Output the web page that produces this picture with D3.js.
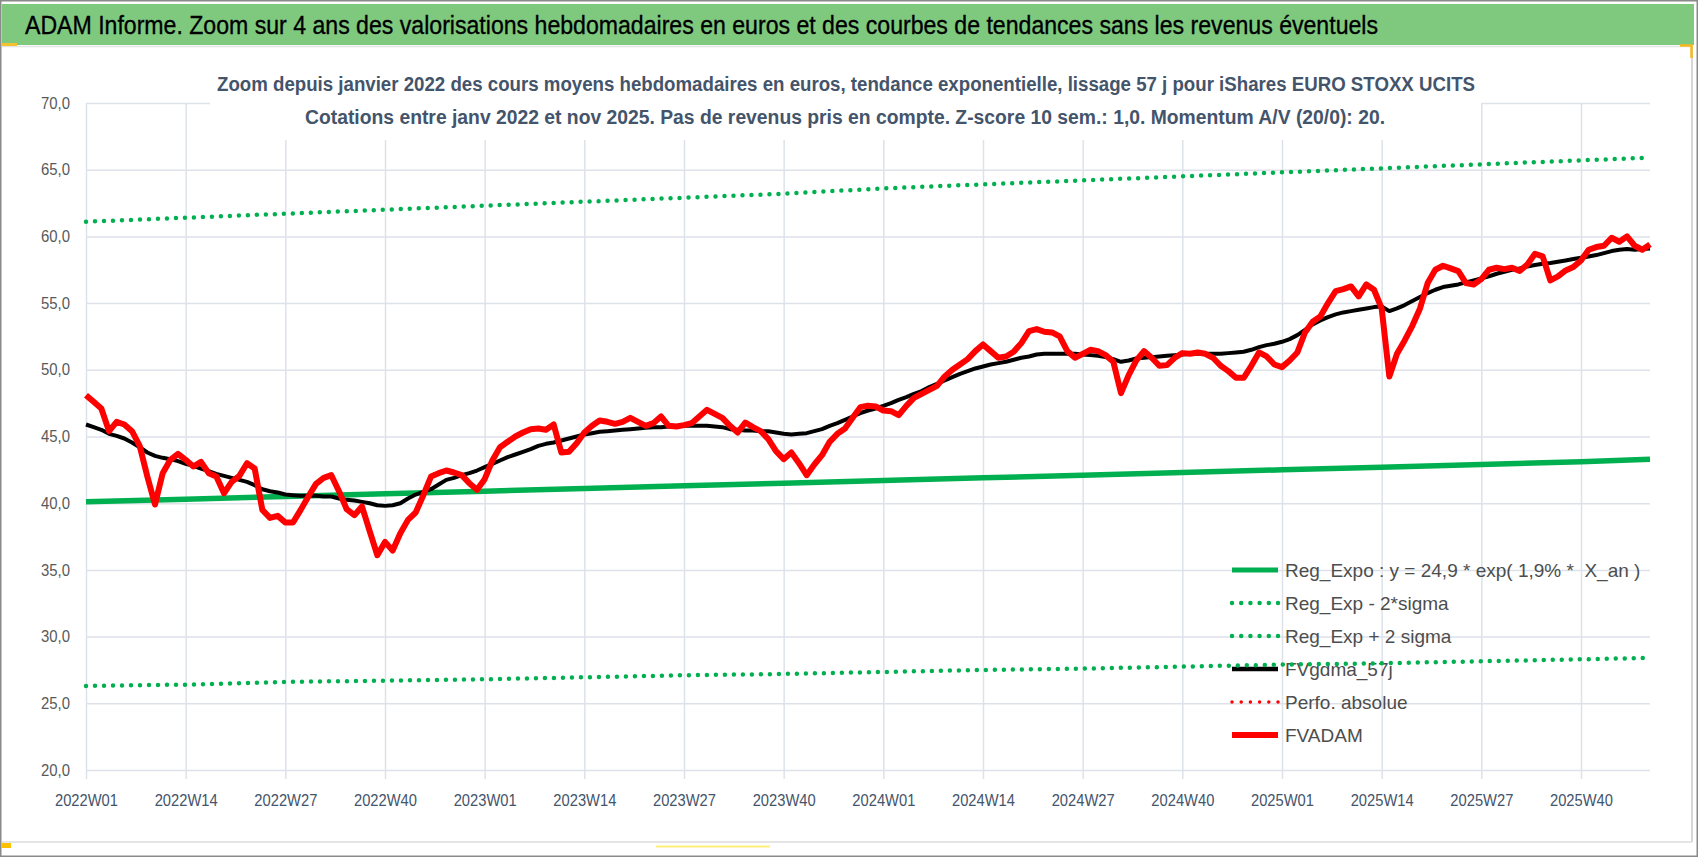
<!DOCTYPE html>
<html>
<head>
<meta charset="utf-8">
<script src="https://cdn.jsdelivr.net/npm/d3@7"></script>
<style>
    body { margin: 0; background: #fff; }
    svg { display: block; font-family: "Liberation Sans", Arial, sans-serif; }
</style>
</head>
<body>
<svg id="chart" width="1698" height="857"></svg>
<script>
// weekly categories, 2022W01 .. 2025W49
const years = [2022, 2023, 2024, 2025]
const weeksPerYear = [52, 52, 52, 49]
const categories = []
years.forEach((yr, k) => {
    for (let w = 1; w <= weeksPerYear[k]; w++) categories.push(yr + 'W' + String(w).padStart(2, '0'))
})

const tickLabels = ['2022W01', '2022W14', '2022W27', '2022W40', '2023W01', '2023W14', '2023W27', '2023W40',
    '2024W01', '2024W14', '2024W27', '2024W40', '2025W01', '2025W14', '2025W27', '2025W40']
const yTicks = [20, 25, 30, 35, 40, 45, 50, 55, 60, 65, 70]

// FVADAM (cours moyens hebdo)
const fvadam = [
    48.1, 47.6, 47.1, 45.4, 46.1, 45.9, 45.4, 44.3, 42.0, 39.9,
    42.25, 43.25, 43.7, 43.25, 42.75, 43.1, 42.25, 42.0, 40.75, 41.6,
    42.05, 43.0, 42.6, 39.5, 38.9, 39.05, 38.55, 38.55, 39.5, 40.5,
    41.45, 41.9, 42.1, 40.9, 39.55, 39.1, 39.75, 37.9, 36.1, 37.1,
    36.45, 37.75, 38.75, 39.3, 40.6, 42.0, 42.25, 42.45, 42.3, 42.1,
    41.5, 41.0, 41.8, 43.2, 44.2, 44.6, 45.0, 45.3, 45.55, 45.6,
    45.5, 45.9, 43.8, 43.85, 44.5, 45.3, 45.8, 46.2, 46.1, 45.95,
    46.1, 46.4, 46.1, 45.8, 46.0, 46.5, 45.8, 45.75, 45.85, 46.0,
    46.5, 47.0, 46.7, 46.4, 45.8, 45.3, 46.05, 45.7, 45.4, 44.8,
    43.9, 43.3, 43.8, 43.0, 42.1, 42.9, 43.6, 44.6, 45.2, 45.6,
    46.4, 47.2, 47.3, 47.25, 46.95, 46.9, 46.6, 47.3, 47.9, 48.2,
    48.5, 48.8, 49.5, 50.0, 50.4, 50.8, 51.4, 51.9, 51.4, 50.9,
    51.0, 51.35, 52.0, 52.9, 53.05, 52.85, 52.8, 52.5, 51.4, 50.9,
    51.2, 51.5, 51.4, 51.1, 50.6, 48.25, 49.6, 50.7, 51.4, 50.9,
    50.3, 50.35, 50.9, 51.25, 51.2, 51.3, 51.2, 50.9, 50.3, 49.9,
    49.4, 49.4, 50.3, 51.3, 51.0, 50.4, 50.2, 50.7, 51.3, 52.8,
    53.6, 54.0, 55.0, 55.9, 56.05, 56.25, 55.5, 56.4, 56.0, 54.6,
    49.5, 51.2, 52.2, 53.3, 54.6, 56.5, 57.5, 57.8, 57.6, 57.4,
    56.5, 56.4, 56.8, 57.5, 57.65, 57.55, 57.65, 57.4, 57.9, 58.7,
    58.5, 56.7, 57.0, 57.45, 57.7, 58.2, 59.0, 59.2, 59.3, 59.9,
    59.6, 60.0, 59.3, 59.0, 59.4
]

// FVgdma_57j (moyenne lissée)
const fvgdma = [
    45.9, 45.7, 45.5, 45.2, 45.05, 44.85, 44.55, 44.2, 43.8, 43.55,
    43.4, 43.3, 43.15, 42.95, 42.8, 42.6, 42.4, 42.2, 42.05, 41.9,
    41.75, 41.6, 41.35, 41.05, 40.9, 40.8, 40.65, 40.6, 40.55, 40.55,
    40.55, 40.5, 40.5, 40.35, 40.25, 40.2, 40.1, 40.0, 39.85, 39.8,
    39.85, 40.0, 40.35, 40.65, 40.85, 41.05, 41.4, 41.75, 41.9, 42.1,
    42.25, 42.45, 42.7, 42.95, 43.2, 43.45, 43.65, 43.85, 44.05, 44.3,
    44.45, 44.55, 44.7, 44.85, 45.0, 45.15, 45.25, 45.35, 45.4, 45.45,
    45.5, 45.55, 45.6, 45.65, 45.7, 45.7, 45.75, 45.75, 45.8, 45.8,
    45.8, 45.8, 45.75, 45.7, 45.55, 45.5, 45.45, 45.45, 45.4, 45.4,
    45.3, 45.2, 45.15, 45.2, 45.25, 45.4, 45.55, 45.8, 46.0, 46.25,
    46.5, 46.75, 46.95, 47.1, 47.3, 47.5, 47.75, 47.95, 48.2, 48.4,
    48.7, 48.95, 49.2, 49.45, 49.7, 49.9, 50.1, 50.25, 50.4, 50.5,
    50.6, 50.75, 50.9, 51.0, 51.15, 51.2, 51.2, 51.2, 51.2, 51.2,
    51.15, 51.1, 51.05, 50.95, 50.8, 50.6, 50.7, 50.85, 50.9, 50.95,
    51.0, 51.05, 51.1, 51.15, 51.2, 51.2, 51.2, 51.2, 51.2, 51.25,
    51.3, 51.35, 51.5, 51.7, 51.85, 51.95, 52.1, 52.3, 52.6, 53.0,
    53.4, 53.7, 53.95, 54.15, 54.3, 54.4, 54.5, 54.6, 54.7, 54.75,
    54.4, 54.6, 54.85, 55.15, 55.45, 55.75, 56.0, 56.2, 56.3, 56.4,
    56.55, 56.7, 56.85, 57.0, 57.2, 57.35, 57.5, 57.6, 57.75, 57.85,
    57.95, 58.0, 58.1, 58.2, 58.3, 58.4, 58.5, 58.6, 58.75, 58.9,
    59.0, 59.05, 59.0, 59.05, 59.1
]

// regression curves, read at each labelled week and at the last week
const trendWeeks = ['2022W01', '2022W14', '2022W27', '2022W40', '2023W01', '2023W14', '2023W27', '2023W40',
    '2024W01', '2024W14', '2024W27', '2024W40', '2025W01', '2025W14', '2025W27', '2025W40', '2025W49']
const regExpo = [40.1, 40.3, 40.5, 40.7, 40.9, 41.1, 41.3, 41.5, 41.7, 41.9, 42.1, 42.3, 42.5, 42.7, 42.9, 43.1, 43.3]
const regMinus2Sigma = [26.3, 26.4, 26.6, 26.7, 26.8, 26.95, 27.1, 27.2, 27.35, 27.5, 27.6, 27.75, 27.9, 28.0, 28.15, 28.3, 28.4]
const regPlus2Sigma = [61.1, 61.4, 61.7, 62.0, 62.3, 62.6, 62.9, 63.2, 63.6, 63.9, 64.2, 64.5, 64.8, 65.1, 65.4, 65.7, 65.9]
const perfoAbsolue = []

const legendLabels = ['Reg_Expo : y = 24,9 * exp( 1,9% *  X_an )', 'Reg_Exp - 2*sigma', 'Reg_Exp + 2 sigma',
    'FVgdma_57j', 'Perfo. absolue', 'FVADAM']

const title = 'ADAM Informe. Zoom sur 4 ans des valorisations hebdomadaires en euros et des courbes de tendances sans les revenus éventuels'
const subtitle = [
    'Zoom depuis janvier 2022 des cours moyens hebdomadaires en euros, tendance exponentielle, lissage 57 j pour iShares EURO STOXX UCITS',
    'Cotations entre janv 2022 et nov 2025. Pas de revenus pris en compte. Z-score 10 sem.: 1,0. Momentum A/V (20/0): 20.'
]

// ---------------------------------------------------------------
const svg = d3.select('#chart')
const plot = { left: 86, right: 1650, top: 103, bottom: 770 }
const GREEN = '#00b050', RED = '#ff0000', GRID = '#dde2ea'

const x = d3.scalePoint().domain(categories).range([plot.left, plot.right])
const y = d3.scaleLinear().domain([20, 70]).range([plot.bottom, plot.top])
const fr = d3.formatLocale({ decimal: ',', thousands: ' ', grouping: [3], currency: ['', ' €'] })
const fmt = fr.format('.1f')

// frame and banner
svg.append('rect')
    .attr('x', 0).attr('y', 0).attr('width', 1698).attr('height', 857)
    .attr('fill', '#fff')
svg.append('rect')
    .attr('x', 2).attr('y', 4).attr('width', 1692).attr('height', 41)
    .attr('fill', '#7fc97f')
svg.append('line')
    .attr('x1', 2).attr('x2', 1692).attr('y1', 46.5).attr('y2', 46.5)
    .attr('stroke', '#e4e4e4').attr('stroke-width', 1.5)
svg.append('line')
    .attr('x1', 1692).attr('x2', 1692).attr('y1', 45).attr('y2', 842)
    .attr('stroke', '#c8c8c8').attr('stroke-width', 1.5)
svg.append('line')
    .attr('x1', 2).attr('x2', 1692).attr('y1', 842).attr('y2', 842)
    .attr('stroke', '#dcdcdc').attr('stroke-width', 1.5)
svg.append('rect')
    .attr('x', 0.75).attr('y', 0.75).attr('width', 1696.5).attr('height', 855.5)
    .attr('fill', 'none').attr('stroke', '#8a8a8a').attr('stroke-width', 1.5)

// small selection marks
svg.append('rect').attr('x', 1).attr('y', 43).attr('width', 16).attr('height', 3).attr('fill', '#f2c230')
svg.append('path').attr('d', 'M1680,45.5H1691.5V58').attr('fill', 'none').attr('stroke', '#f5b81e').attr('stroke-width', 2.5)
svg.append('rect').attr('x', 1).attr('y', 843).attr('width', 10).attr('height', 5).attr('fill', '#ffc000')
svg.append('line').attr('x1', 656).attr('x2', 770).attr('y1', 846.5).attr('y2', 846.5)
    .attr('stroke', '#fff07a').attr('stroke-width', 2)

svg.append('text')
    .attr('x', 25).attr('y', 34)
    .attr('font-size', 26)
    .attr('fill', '#000')
    .attr('stroke', '#000').attr('stroke-width', 0.35)
    .attr('textLength', 1353).attr('lengthAdjust', 'spacingAndGlyphs')
    .text(title)

// gridlines
const gridY = svg.append('g')
    .attr('transform', `translate(${plot.left},0)`)
    .call(d3.axisLeft(y).tickValues(yTicks).tickSize(-(plot.right - plot.left)).tickFormat(''))
gridY.select('.domain').remove()
gridY.selectAll('line').attr('stroke', GRID).attr('stroke-width', 1.5)

const gridX = svg.append('g')
    .attr('transform', `translate(0,${plot.bottom + 9})`)
    .call(d3.axisBottom(x).tickValues(tickLabels).tickSize(-(plot.bottom - plot.top + 9)).tickFormat(''))
gridX.select('.domain').remove()
gridX.selectAll('line').attr('stroke', GRID).attr('stroke-width', 1.5)

// axis labels
const yAxis = svg.append('g')
    .attr('transform', `translate(${plot.left},0)`)
    .call(d3.axisLeft(y).tickValues(yTicks).tickSize(0).tickPadding(16).tickFormat(fmt))
yAxis.select('.domain').remove()
yAxis.selectAll('text')
    .attr('font-family', '"Liberation Sans", Arial, sans-serif')
    .attr('font-size', 16).attr('fill', '#595959')
    .attr('textLength', 29).attr('lengthAdjust', 'spacingAndGlyphs')

const xAxis = svg.append('g')
    .attr('transform', `translate(0,${plot.bottom})`)
    .call(d3.axisBottom(x).tickValues(tickLabels).tickSize(0).tickPadding(24))
xAxis.select('.domain').remove()
xAxis.selectAll('text')
    .attr('font-family', '"Liberation Sans", Arial, sans-serif')
    .attr('font-size', 17).attr('fill', '#44546a')
    .attr('textLength', 63).attr('lengthAdjust', 'spacingAndGlyphs')

// chart title box (covers the gridlines behind it)
svg.append('rect')
    .attr('x', 210).attr('y', 56).attr('width', 1271).attr('height', 84)
    .attr('fill', '#fff')
const subExtent = [[217, 1258], [305, 1080]]
svg.selectAll('.subtitle')
    .data(subtitle)
    .join('text')
    .attr('class', 'subtitle')
    .attr('x', (d, i) => subExtent[i][0])
    .attr('y', (d, i) => 91 + i * 32.5)
    .attr('font-size', 20).attr('font-weight', 'bold')
    .attr('fill', '#44546a')
    .attr('textLength', (d, i) => subExtent[i][1]).attr('lengthAdjust', 'spacingAndGlyphs')
    .text(d => d)

// legend (drawn under the series, as in the source)
const legendStyles = [
    { stroke: GREEN, width: 5, dash: null },
    { stroke: GREEN, width: 4.5, dash: '0 9.2' },
    { stroke: GREEN, width: 4.5, dash: '0 9.2' },
    { stroke: '#000', width: 4.5, dash: null },
    { stroke: RED, width: 3.5, dash: '0 9.2' },
    { stroke: RED, width: 6, dash: null },
]
const legend = svg.append('g').attr('class', 'legend')
legendLabels.forEach((lab, i) => {
    const ly = 570 + i * 33
    const st = legendStyles[i]
    legend.append('line')
        .attr('x1', 1232).attr('x2', 1278).attr('y1', ly).attr('y2', ly)
        .attr('stroke', st.stroke).attr('stroke-width', st.width)
        .attr('stroke-linecap', st.dash ? 'round' : 'butt')
        .attr('stroke-dasharray', st.dash)
    legend.append('text')
        .attr('x', 1285).attr('y', ly + 6.5)
        .attr('font-size', 19).attr('fill', '#4d4d4d')
        .style('white-space', 'pre')
        .text(lab)
})

// series
const trendLine = d3.line().x(d => x(d[0])).y(d => y(d[1]))
const weekLine = d3.line().x((d, i) => x(categories[i])).y(d => y(d))

const drawTrend = (vals, width, dash) => {
    svg.append('path')
        .datum(trendWeeks.map((w, i) => [w, vals[i]]))
        .attr('d', trendLine)
        .attr('fill', 'none')
        .attr('stroke', GREEN)
        .attr('stroke-width', width)
        .attr('stroke-linecap', dash ? 'round' : 'butt')
        .attr('stroke-dasharray', dash)
}
drawTrend(regExpo, 5.5, null)
drawTrend(regMinus2Sigma, 4.5, '0 9')
drawTrend(regPlus2Sigma, 4.5, '0 9')

svg.append('path')
    .datum(fvgdma)
    .attr('d', weekLine)
    .attr('fill', 'none')
    .attr('stroke', '#000')
    .attr('stroke-width', 4)
    .attr('stroke-linejoin', 'round')

if (perfoAbsolue.length) {
    svg.append('path').datum(perfoAbsolue).attr('d', weekLine)
        .attr('fill', 'none').attr('stroke', RED).attr('stroke-width', 3).attr('stroke-dasharray', '0 8')
}

svg.append('path')
    .datum(fvadam)
    .attr('d', weekLine)
    .attr('fill', 'none')
    .attr('stroke', RED)
    .attr('stroke-width', 6)
    .attr('stroke-linejoin', 'round')
</script>
</body>
</html>
